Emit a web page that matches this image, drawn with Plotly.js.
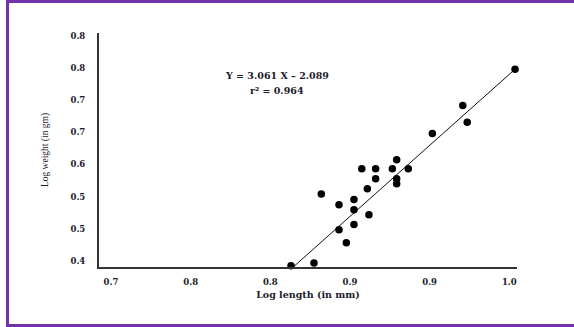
<!DOCTYPE html>
<html>
<head>
<meta charset="utf-8">
<script src="https://cdn.plot.ly/plotly-3.0.1.min.js"></script>
<style>
  html, body { margin: 0; padding: 0; background: #fff; }
  #wrap { position: relative; width: 574px; height: 327px; overflow: hidden; }
  #chart { position: absolute; left: 0; top: 0; width: 574px; height: 327px; }
  .bd { position: absolute; background: #7232a8; }
</style>
</head>
<body>
<div id="wrap">
  <div id="chart"></div>
  <div class="bd" style="left:6px; top:0; width:568px; height:3px;"></div>
  <div class="bd" style="left:6px; top:0; width:3px; height:327px;"></div>
  <div class="bd" style="left:6px; top:324px; width:568px; height:3px;"></div>
</div>
<script>
const logLength = [0.9536, 0.9208, 0.9236, 0.9017, 0.8793, 0.8574, 0.8661, 0.8766, 0.8866, 0.8661,
                   0.8793, 0.8793, 0.8609, 0.8320, 0.8431, 0.8525, 0.8525, 0.8619, 0.8431, 0.8525,
                   0.8477, 0.8130, 0.8274];
const logWeight = [0.6979, 0.6414, 0.6156, 0.5980, 0.5572, 0.5432, 0.5432, 0.5432, 0.5432, 0.5277,
                   0.5277, 0.5199, 0.5122, 0.5039, 0.4873, 0.4956, 0.4796, 0.4718, 0.4486, 0.4568,
                   0.4284, 0.3927, 0.3969];

// Fitted regression line end points (as drawn in the picture)
const fitX = [0.8144, 0.9536];
const fitY = [0.3907, 0.6979];

// Axis ticks and their printed labels
const xTickVals = [0.70, 0.75, 0.80, 0.85, 0.90, 0.95];
const xTickText = ['0.7', '0.8', '0.8', '0.9', '0.9', '1.0'];
const yTickVals = [0.40, 0.45, 0.50, 0.55, 0.60, 0.65, 0.70, 0.75];
const yTickText = ['0.4', '0.5', '0.5', '0.6', '0.7', '0.7', '0.8', '0.8'];

const equationText = 'Y = 3.061 X \u2013 2.089';
const r2Text = 'r\u00B2 = 0.964';

const tickFont = { family: 'DejaVu Serif', size: 8.5, color: '#1a1a2a', weight: 'bold' };

const traces = [
  {
    x: fitX, y: fitY, type: 'scatter', mode: 'lines',
    line: { color: '#111', width: 1 }, hoverinfo: 'skip', cliponaxis: false
  },
  {
    x: logLength, y: logWeight, type: 'scatter', mode: 'markers',
    marker: { color: '#000', size: 7.5 }, cliponaxis: false
  }
];

const layout = {
  width: 574, height: 327,
  margin: { l: 99, r: 57, t: 33, b: 60 },
  paper_bgcolor: '#fff', plot_bgcolor: '#fff',
  showlegend: false,
  xaxis: {
    range: [0.69247, 0.95483],
    tickvals: xTickVals, ticktext: xTickText,
    showgrid: false, zeroline: false,
    showline: true, linecolor: '#333', linewidth: 2,
    ticks: '', ticklabelstandoff: 6,
    tickfont: tickFont,
    title: { text: 'Log length (in mm)', font: { family: 'DejaVu Serif', size: 9.5, color: '#1a1a2a', weight: 'bold' }, standoff: 5 }
  },
  yaxis: {
    range: [0.39069, 0.75419],
    tickvals: yTickVals, ticktext: yTickText,
    showgrid: false, zeroline: false,
    showline: true, linecolor: '#333', linewidth: 2,
    ticks: '', ticklabelstandoff: 10,
    tickfont: tickFont,
    title: { text: 'Log weight (in gm)', font: { family: 'Liberation Serif', size: 9.5, color: '#1a1a2a' }, standoff: 20 }
  },
  annotations: [
    { x: 0.8042, y: 0.6889, xref: 'x', yref: 'y', text: equationText, showarrow: false,
      font: { family: 'DejaVu Serif', size: 9.5, color: '#1a1a2a', weight: 'bold' } },
    { x: 0.8042, y: 0.6656, xref: 'x', yref: 'y', text: r2Text, showarrow: false,
      font: { family: 'DejaVu Serif', size: 9.5, color: '#1a1a2a', weight: 'bold' } }
  ]
};

Plotly.newPlot('chart', traces, layout, { staticPlot: true, displayModeBar: false });
</script>
</body>
</html>
